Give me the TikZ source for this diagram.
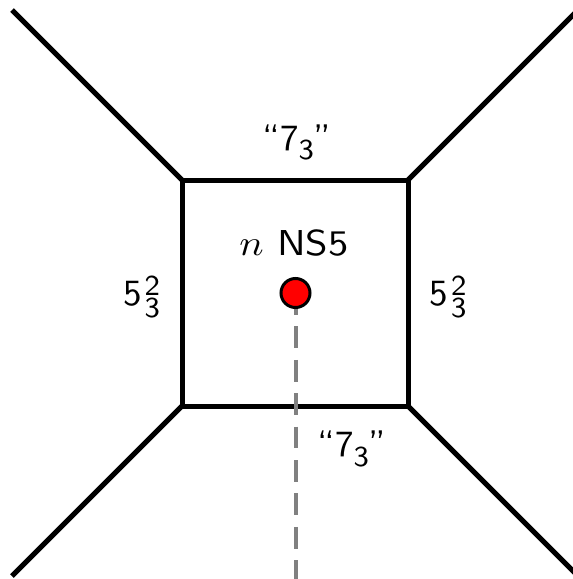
\documentclass[tikz,border=0pt]{standalone}
\usepackage{graphicx}
\newcommand{\basesz}{\fontsize{10}{12}\selectfont}
\newcommand{\smsz}{\fontsize{7.8}{9}\selectfont}
\newcommand{\sevthree}{\scalebox{3.7}{\basesz ``7\raisebox{-2.7pt}{\smsz 3}''}}
\newcommand{\fivetwothree}{\scalebox{3.7}{\basesz 5\kern0.8pt\makebox[0pt][l]{\raisebox{2.6pt}{\smsz 2}}\raisebox{-3.3pt}{\smsz 3}}}
\newcommand{\nsfive}{\scalebox{4.05}[3.6]{\basesz $n$ NS5}}
\begin{document}
\begin{tikzpicture}[x=1pt,y=-1pt,
  wire/.style={line width=5pt, line join=miter, line cap=butt},
  dline/.style={line width=4pt, draw={rgb,255:red,128;green,128;blue,128}, dash pattern=on 21.7pt off 11.7pt},
  lbl/.style={font=\sffamily, inner sep=0pt, anchor=base},
  dot/.style={circle, fill=red, draw=black, line width=3pt, minimum size=29pt, inner sep=0pt}]
\useasboundingbox (0,0) rectangle (573,579);
\clip (0,0) rectangle (573,579);
% corners
\coordinate (tl) at (182,180);
\coordinate (tr) at (408,180);
\coordinate (bl) at (182,406);
\coordinate (br) at (408,406);
\coordinate (etl) at (12,10);
\coordinate (etr) at (578,10);
\coordinate (ebl) at (12,576);
\coordinate (ebr) at (578,576);
\coordinate (cut) at (295.5,585);
% square and legs
\draw[wire] (tl) -- (tr) -- (br) -- (bl) -- cycle;
\draw[wire] (tl) -- (etl);
\draw[wire] (tr) -- (etr);
\draw[wire] (bl) -- (ebl);
\draw[wire] (br) -- (ebr);
% dot and cut
\coordinate (dc) at (295.5,293);
\draw[dline] (dc) -- (cut);
\node[dot] (ns) at (dc) {};
% labels
\node[lbl] (ltop) at (297,150) {\sevthree};
\node[lbl] (lbot) at (352,456.7) {\sevthree};
\node[lbl] (lleft) at (141.5,305) {\fivetwothree};
\node[lbl] (lright) at (448,305) {\fivetwothree};
\node[lbl] (lns) at (294,255) {\nsfive};
\end{tikzpicture}
\end{document}
